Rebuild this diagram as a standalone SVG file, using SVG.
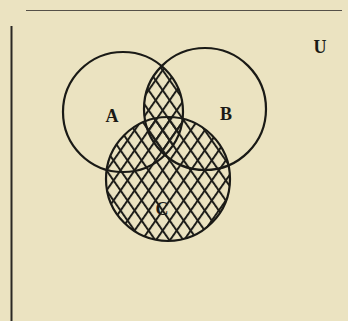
<svg xmlns="http://www.w3.org/2000/svg" width="348" height="321" viewBox="0 0 348 321">
<defs>
<pattern id="h1" patternUnits="userSpaceOnUse" width="11.5" height="11.5" patternTransform="rotate(35)">
<line x1="1" y1="0" x2="1" y2="11.5" stroke="#1e1e1a" stroke-width="2"/>
</pattern>
<pattern id="h2" patternUnits="userSpaceOnUse" width="11.5" height="11.5" patternTransform="rotate(-35)">
<line x1="1" y1="0" x2="1" y2="11.5" stroke="#1e1e1a" stroke-width="2"/>
</pattern>
<clipPath id="cA"><circle cx="123" cy="112" r="60"/></clipPath>
<clipPath id="cB"><circle cx="205" cy="109" r="61"/></clipPath>
</defs>
<style>
.ring{fill:none;stroke:#1a1a16;stroke-width:2.2}
.lbl{font-family:"Liberation Serif",serif;font-weight:bold;font-size:18px;fill:#1a1a16;text-anchor:middle}
</style>
<rect width="348" height="321" fill="#ebe3c1"/>
<line x1="26" y1="10.5" x2="342" y2="10.5" stroke="#555048" stroke-width="1.2"/>
<line x1="11.5" y1="26" x2="11.5" y2="321" stroke="#2a2824" stroke-width="2"/>
<g id="shading">
<g id="shadeC">
<circle cx="168" cy="179" r="62" fill="url(#h1)"/>
<circle cx="168" cy="179" r="62" fill="url(#h2)"/>
</g>
<g id="shadeAB" clip-path="url(#cA)">
<g clip-path="url(#cB)">
<rect x="140" y="40" width="50" height="150" fill="url(#h1)"/>
<rect x="140" y="40" width="50" height="150" fill="url(#h2)"/>
</g>
</g>
</g>
<g id="A"><circle class="ring" cx="123" cy="112" r="60"/><text class="lbl" x="112" y="122">A</text></g>
<g id="B"><circle class="ring" cx="205" cy="109" r="61"/><text class="lbl" x="226" y="120">B</text></g>
<g id="C"><circle class="ring" cx="168" cy="179" r="62" stroke-width="2.8"/><text class="lbl" x="162" y="215">C</text></g>
<g id="U"><text class="lbl" x="320" y="53">U</text></g>
<g id="connectors"/>
</svg>
